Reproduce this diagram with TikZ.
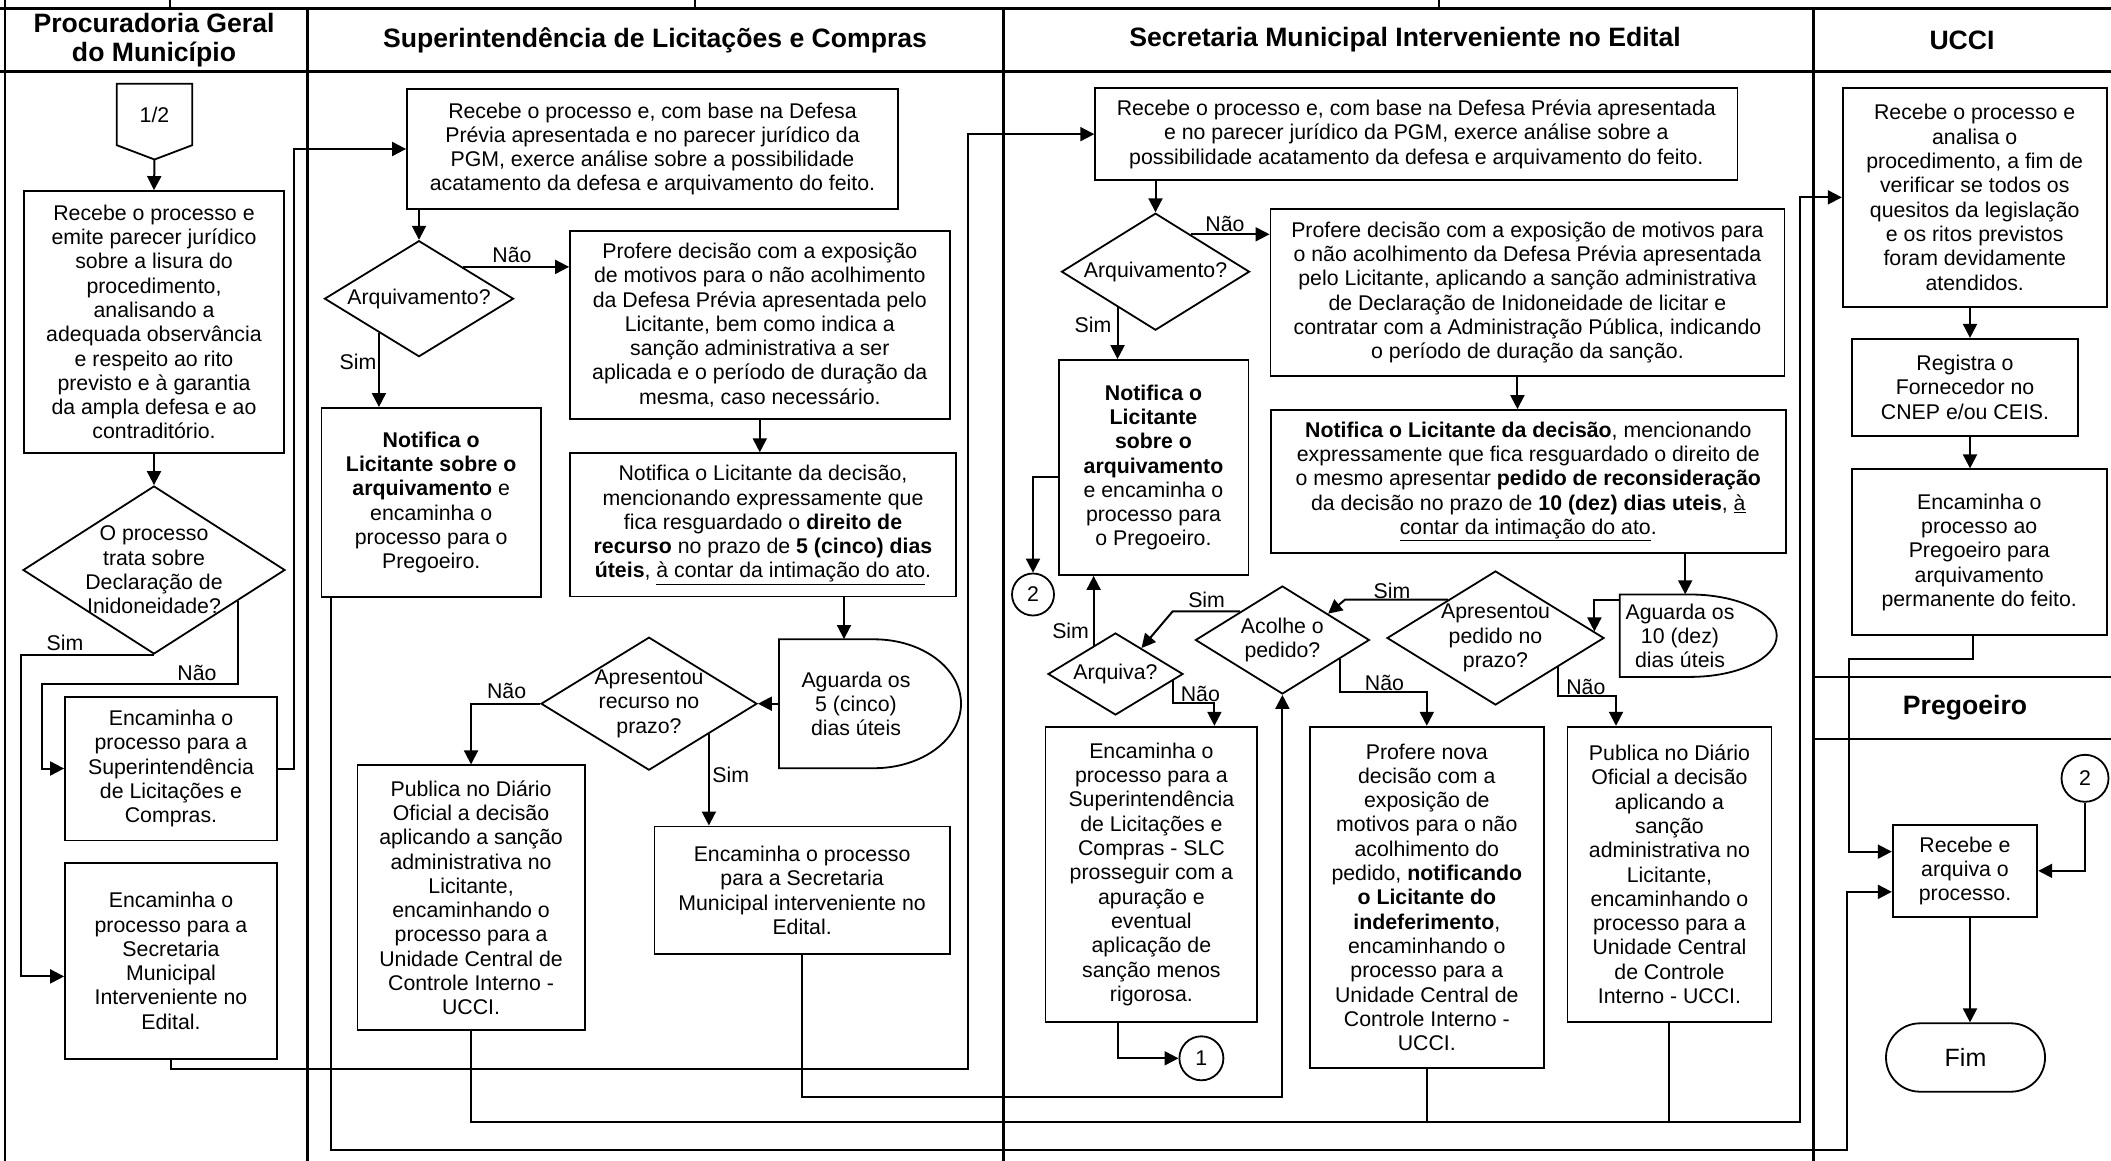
\documentclass[tikz,border=0pt]{standalone}
\usepackage{fontspec}
\setmainfont{Liberation Sans}
\usetikzlibrary{arrows.meta,shapes.geometric,calc}

\newcommand\txtfont{\fontsize{21.3}{24.3}\selectfont}
\newcommand\hdfont{\fontsize{26.6}{29.5}\selectfont\bfseries}
\newcommand\fimfont{\fontsize{25}{28}\selectfont}

% process box spanning (x1,y1)-(x2,y2)
\newcommand\procbox[6]{%
  \node[box,minimum width={(#4-(#2))*1pt},minimum height={(#5-(#3))*1pt}]
    (#1) at ({(#2+#4)/2},{(#3+#5)/2}) {#6};}
% decision diamond: name, centre x, centre y, width, height, text
\newcommand\decision[6]{%
  \node[dia,minimum width={#4*1pt},minimum height={#5*1pt}] (#1) at (#2,#3) {};
  \node[txt] (#1-t) at (#1.center) {#6};}

\begin{document}
\begin{tikzpicture}[x=1pt,y=-1pt,
  frame/.style={line width=2.6pt},
  box/.style={draw,line width=1.8pt,inner sep=0pt,align=center,font=\txtfont},
  dia/.style={draw,diamond,line width=1.8pt,inner sep=0pt},
  txt/.style={inner sep=0pt,align=center,font=\txtfont},
  lab/.style={inner sep=0pt,font=\txtfont},
  hd/.style={inner sep=0pt,align=center,font=\hdfont},
  conn/.style={draw,circle,line width=1.8pt,inner sep=0pt,font=\txtfont},
  shapeln/.style={line width=1.8pt},
  ln/.style={line width=2pt},
  arr/.style={line width=2pt,-{Triangle[length=14pt,width=14pt]}}]

\useasboundingbox (0,0) rectangle (2111,1161);
\clip (0,0) rectangle (2111,1161);

% ---------- swimlane frame ----------
\draw[frame] (0,8.5) -- (2111,8.5);
\draw[frame] (0,71.5) -- (2111,71.5);
\draw[frame] (5,0) -- (5,1161);
\foreach \x in {307.5,1003.5,1813.5} \draw[frame] (\x,8.5) -- (\x,1161);
\foreach \x in {170,695,1439} \draw[frame] (\x,0) -- (\x,8.5);
\draw[frame] (1813.5,677) -- (2111,677);
\draw[frame] (1813.5,739) -- (2111,739);

\node[hd] (hPGM) at (154,40) {Procuradoria Geral\\do Município};
\node[hd] (hSLC) at (655,40) {Superintendência de Licitações e Compras};
\node[hd] (hSMI) at (1405,40) {Secretaria Municipal Interveniente no Edital};
\node[hd] (hUCCI) at (1962,40) {UCCI};
\node[hd] (hPreg) at (1965,708) {Pregoeiro};

% ---------- Procuradoria Geral do Município ----------
\node[txt,minimum width=75pt,minimum height=61pt] (p12) at (154.5,114.5) {1/2};
\draw[shapeln] (p12.north west) -- (p12.north east) -- (p12.south east)
  -- ($(p12.south)+(0,14.3)$) -- (p12.south west) -- cycle;
\coordinate (p12tip) at ($(p12.south)+(0,14.3)$);

\procbox{b1}{24}{191}{284}{453}{Recebe o processo e\\emite parecer jurídico\\sobre a lisura do\\procedimento,\\analisando a\\adequada observância\\e respeito ao rito\\previsto e à garantia\\da ampla defesa e ao\\contraditório.}
\decision{d1}{154}{570}{262}{168}{O processo\\trata sobre\\Declaração de\\Inidoneidade?}
\procbox{b2}{65}{696.6}{277}{840.4}{Encaminha o\\processo para a\\Superintendência\\de Licitações e\\Compras.}
\procbox{b3}{65}{863}{277}{1058.7}{Encaminha o\\processo para a\\Secretaria\\Municipal\\Interveniente no\\Edital.}

% ---------- Superintendência de Licitações e Compras ----------
\procbox{s1}{407}{89}{898}{209}{Recebe o processo e, com base na Defesa\\Prévia apresentada e no parecer jurídico da\\PGM, exerce análise sobre a possibilidade\\acatamento da defesa e arquivamento do feito.}
\decision{s1d}{419}{298.7}{189}{116}{Arquivamento?}
\procbox{s2}{570}{230.7}{949.6}{419.3}{Profere decisão com a exposição\\de motivos para o não acolhimento\\da Defesa Prévia apresentada pelo\\Licitante, bem como indica a\\sanção administrativa a ser\\aplicada e o período de duração da\\mesma, caso necessário.}
\procbox{s3}{321.4}{407.9}{541}{597}{\textbf{Notifica o}\\\textbf{Licitante sobre o}\\\textbf{arquivamento} e\\encaminha o\\processo para o\\Pregoeiro.}
\procbox{s4}{570}{453.2}{956}{596.5}{Notifica o Licitante da decisão,\\mencionando expressamente que\\fica resguardado o \textbf{direito de}\\\textbf{recurso} no prazo de \textbf{5 (cinco) dias}\\\textbf{úteis}, \underline{à contar da intimação do ato}.}
\node[txt,minimum width=154pt,minimum height=128.9pt] (s5) at (856,703.7) {Aguarda os\\5 (cinco)\\dias úteis};
\draw[shapeln] (778.9,639.3) -- (874,639.3)
  arc[start angle=90,end angle=-90,x radius=87pt,y radius=64.45pt] -- (778.9,768.2) -- cycle;
\decision{s6}{649}{703.7}{216}{133}{Apresentou\\recurso no\\prazo?}
\procbox{s7}{357.4}{765.3}{584.7}{1030.2}{Publica no Diário\\Oficial a decisão\\aplicando a sanção\\administrativa no\\Licitante,\\encaminhando o\\processo para a\\Unidade Central de\\Controle Interno -\\UCCI.}
\procbox{s8}{654.5}{826.4}{949.7}{954.2}{Encaminha o processo\\para a Secretaria\\Municipal interveniente no\\Edital.}

% ---------- Secretaria Municipal Interveniente no Edital ----------
\procbox{m1}{1095.2}{88.3}{1737.4}{180}{Recebe o processo e, com base na Defesa Prévia apresentada\\e no parecer jurídico da PGM, exerce análise sobre a\\possibilidade acatamento da defesa e arquivamento do feito.}
\decision{m1d}{1155.5}{271.7}{188}{117}{Arquivamento?}
\procbox{m2}{1270.4}{209.3}{1784.5}{376}{Profere decisão com a exposição de motivos para\\o não acolhimento da Defesa Prévia apresentada\\pelo Licitante, aplicando a sanção administrativa\\de Declaração de Inidoneidade de licitar e\\contratar com a Administração Pública, indicando\\o período de duração da sanção.}
\procbox{m3}{1271}{410}{1785.6}{552.7}{\textbf{Notifica o Licitante da decisão}, mencionando\\expressamente que fica resguardado o direito de\\o mesmo apresentar \textbf{pedido de reconsideração}\\da decisão no prazo de \textbf{10 (dez) dias uteis}, \underline{à}\\\underline{contar da intimação do ato}.}
\procbox{m4}{1058.6}{360}{1248.4}{575}{\textbf{Notifica o}\\\textbf{Licitante}\\\textbf{sobre o}\\\textbf{arquivamento}\\e encaminha o\\processo para\\o Pregoeiro.}
\node[conn,minimum size=42pt] (o2) at (1033,594.5) {2};
\decision{a1}{1115.5}{674}{135}{82}{Arquiva?}
\decision{c1}{1282.4}{640}{174}{108}{Acolhe o\\pedido?}
\decision{p1}{1495.5}{638}{217}{134}{Apresentou\\pedido no\\prazo?}
\node[txt,minimum width=120.4pt,minimum height=82.4pt] (d10) at (1680,635.7) {Aguarda os\\10 (dez)\\dias úteis};
\draw[shapeln] (1619.8,594.5) -- (1690,594.5)
  arc[start angle=90,end angle=-90,x radius=86.7pt,y radius=41.2pt] -- (1619.8,676.9) -- cycle;
\procbox{e1}{1045.5}{726.7}{1257.3}{1021.9}{Encaminha o\\processo para a\\Superintendência\\de Licitações e\\Compras - SLC\\prosseguir com a\\apuração e\\eventual\\aplicação de\\sanção menos\\rigorosa.}
\procbox{f1}{1309.6}{726.7}{1544}{1067.8}{Profere nova\\decisão com a\\exposição de\\motivos para o não\\acolhimento do\\pedido, \textbf{notificando}\\\textbf{o Licitante do}\\\textbf{indeferimento},\\encaminhando o\\processo para a\\Unidade Central de\\Controle Interno -\\UCCI.}
\procbox{g1}{1567.5}{726.7}{1771.4}{1021.9}{Publica no Diário\\Oficial a decisão\\aplicando a\\sanção\\administrativa no\\Licitante,\\encaminhando o\\processo para a\\Unidade Central\\de Controle\\Interno - UCCI.}
\node[conn,minimum size=44pt] (o1) at (1201.4,1058.3) {1};

% ---------- UCCI / Pregoeiro ----------
\procbox{u1}{1842.7}{87.7}{2106.7}{307}{Recebe o processo e\\analisa o\\procedimento, a fim de\\verificar se todos os\\quesitos da legislação\\e os ritos previstos\\foram devidamente\\atendidos.}
\procbox{u2}{1851.7}{338.8}{2078.3}{435.6}{Registra o\\Fornecedor no\\CNEP e/ou CEIS.}
\procbox{u3}{1851.7}{469.3}{2106.7}{635.3}{Encaminha o\\processo ao\\Pregoeiro para\\arquivamento\\permanente do feito.}
\node[conn,minimum size=47pt] (o3) at (2085,778.3) {2};
\procbox{r1}{1892.7}{825}{2037.3}{916.7}{Recebe e\\arquiva o\\processo.}
\node[box,rounded corners=34pt,minimum width=159pt,minimum height=68.4pt,font=\fimfont] (fim) at (1965.5,1057.5) {Fim};

% ---------- connectors: Procuradoria ----------
\draw[arr] (p12tip) -- (b1.north);
\draw[arr] (b1.south) -- (d1.north);
\draw[arr] (d1.south) -| (21,976.4) -- (b3.west |- 0,976.4);
\coordinate (d1no) at ($(d1.south)!0.637!(d1.east)$);
\draw[arr] (d1no) |- (42,684) |- (b2.west);
\draw[arr] (b2.east) -| (294,149) -- (s1.west);
\draw[arr] (b3.south) |- (968,1069) |- (m1.west);

% ---------- connectors: Superintendência ----------
\draw[arr] (s1d.north |- s1.south) -- (s1d.north);
\coordinate (s1dno) at ($(s1d.north)!0.46!(s1d.east)$);
\draw[arr] (s1dno) -- (s1dno -| s2.west);
\coordinate (s1dsi) at ($(s1d.south)!0.42!(s1d.west)$);
\draw[arr] (s1dsi) -- (s1dsi |- s3.north);
\draw[arr] (s2.south) -- (s2.south |- s4.north);
\draw[arr] ([xshift=-12pt]s5.north |- s4.south) -- ([xshift=-12pt]s5.north);
\draw[arr] (s5.west) -- (s6.east);
\draw[arr] (s6.west) -| (s7.north);
\coordinate (s6si) at ($(s6.south)!0.55!(s6.east)$);
\draw[arr] (s6si) -- (s6si |- s8.north);
\draw[arr] ([xshift=10.6pt]s3.south west) |- (1847,1149.5) |- ([yshift=-21pt]r1.west);
\draw[arr] (s7.south) |- (1800.2,1122) |- (u1.west);
\draw[arr] (s8.south) |- (c1.south |- 0,1097) -- (c1.south);

% ---------- connectors: Secretaria ----------
\draw[arr] (m1d.north |- m1.south) -- (m1d.north);
\coordinate (m1dno) at ($(m1d.north)!0.37!(m1d.east)$);
\draw[arr] (m1dno) -- (m1dno -| m2.west);
\coordinate (m1dsi) at ($(m1d.south)!0.40!(m1d.west)$);
\draw[arr] (m1dsi) -- (m1dsi |- m4.north);
\draw[arr] ([xshift=-10pt]m2.south) -- ([xshift=-10pt]m2.south |- m3.north);
\draw[arr] ([xshift=5.2pt]d10.north |- m3.south) -- ([xshift=5.2pt]d10.north);
\coordinate (p1in) at ($(p1.north)!0.904!(p1.east)$);
\draw[arr] ([yshift=-5.7pt]d10.north west) -| (p1in);
\coordinate (p1si) at ($(p1.north)!0.436!(p1.west)$);
\coordinate (c1in) at ($(c1.north)!0.52!(c1.east)$);
\draw[arr] (p1si) -- (p1si -| 1345,0) -- (c1in);
\coordinate (p1no) at ($(p1.south)!0.567!(p1.east)$);
\draw[arr] (p1no) |- (1616,696) -- (g1.north -| 1616,0);
\coordinate (c1si) at ($(c1.north)!0.48!(c1.west)$);
\coordinate (a1in) at ($(a1.north)!0.38!(a1.east)$);
\draw[arr] (c1si) -- (c1si -| 1172.6,0) -- (a1in);
\coordinate (c1no) at ($(c1.south)!0.66!(c1.east)$);
\draw[arr] (c1no) |- (f1.north |- 0,692.2) -- (f1.north);
\coordinate (a1si) at ($(a1.north)!0.32!(a1.west)$);
\draw[arr] (a1si) -- (a1si |- m4.south);
\coordinate (a1no) at ($(a1.south)!0.846!(a1.east)$);
\draw[arr] (a1no) |- (1214.4,702.6) -- (e1.north -| 1214.4,0);
\draw[arr] ([xshift=-33.7pt]e1.south) |- (o1.west);
\draw[arr] ([yshift=-9.2pt]m4.west) -| (o2.north);
\draw[ln] (f1.south) -- (f1.south |- 0,1122);
\draw[ln] (g1.south) -- (g1.south |- 0,1122);

% ---------- connectors: UCCI / Pregoeiro ----------
\draw[arr] (u1.south -| 1970,0) -- (u2.north -| 1970,0);
\draw[arr] (u2.south -| 1970,0) -- (u3.north -| 1970,0);
\draw[arr] (u3.south -| 1973.3,0) |- (1848.5,659) |- ([yshift=19.2pt]r1.west);
\draw[arr] (o3.south) |- (r1.east);
\draw[arr] (r1.south -| 1970,0) -- (fim.north -| 1970,0);

% ---------- branch labels ----------
\node[lab] (d1y) at (65,643) {Sim};
\node[lab] (d1n) at (197,673) {Não};
\node[lab] (s1dn) at (512,255) {Não};
\node[lab] (s1dy) at (358,362) {Sim};
\node[lab] (s6n) at (506.6,691) {Não};
\node[lab] (s6y) at (730.7,774.5) {Sim};
\node[lab] (m1dn) at (1225,224) {Não};
\node[lab] (m1dy) at (1093,325) {Sim};
\node[lab] (a1y) at (1070.6,631) {Sim};
\node[lab] (a1n) at (1200.3,694) {Não};
\node[lab] (c1y) at (1206.6,600) {Sim};
\node[lab] (c1n) at (1384.4,682.6) {Não};
\node[lab] (p1y) at (1392,590.7) {Sim};
\node[lab] (p1n) at (1585.8,686.5) {Não};
\end{tikzpicture}
\end{document}
